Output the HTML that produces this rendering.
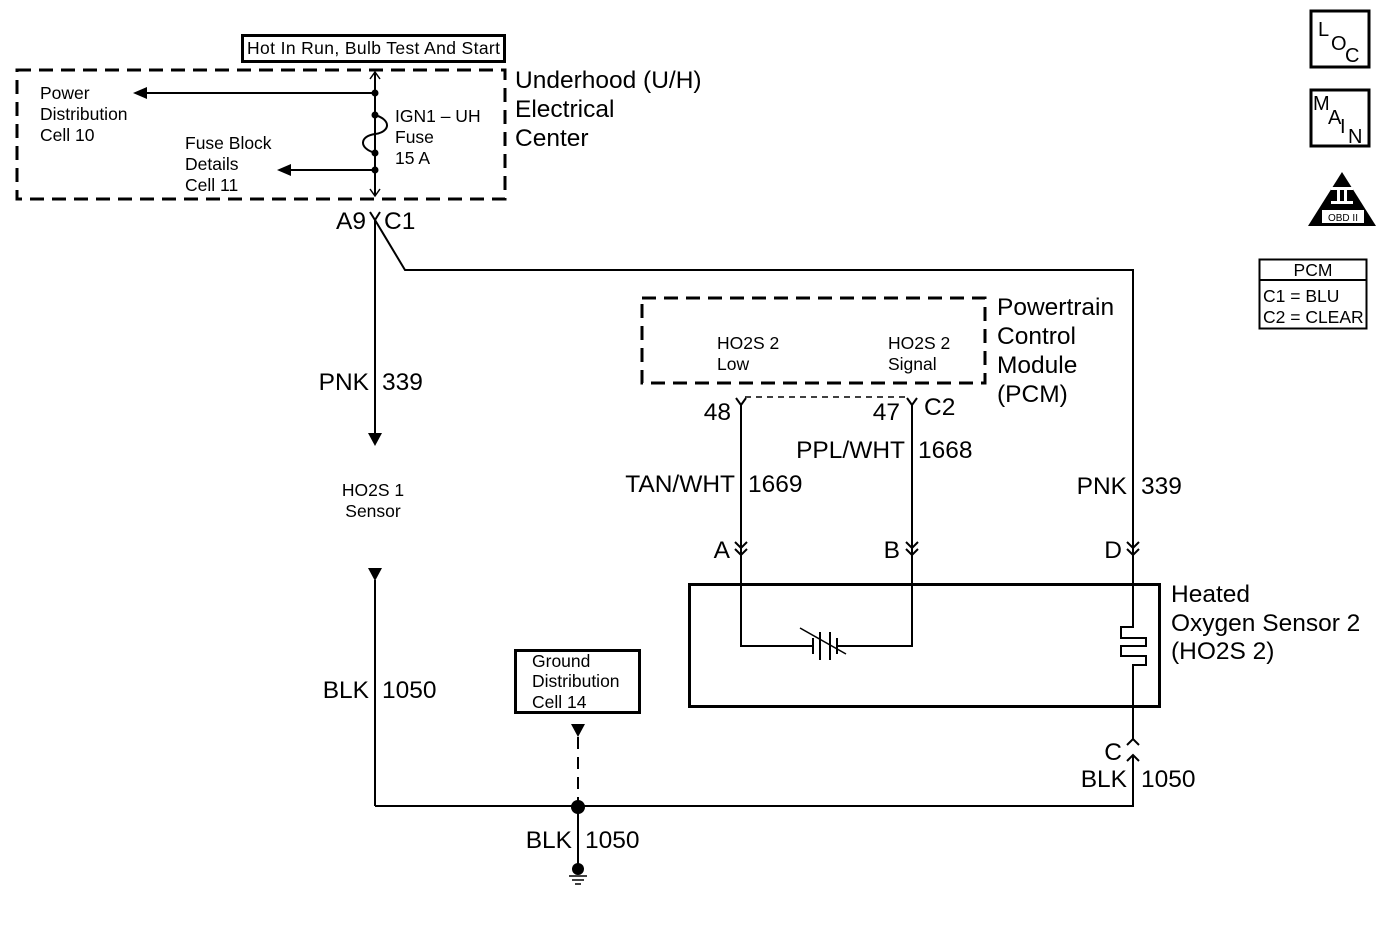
<!DOCTYPE html>
<html><head><meta charset="utf-8"><style>
html,body{margin:0;padding:0;background:#fff;}
svg{display:block;font-family:"Liberation Sans",sans-serif;}
</style></head><body>
<svg width="1380" height="929" viewBox="0 0 1380 929" xmlns="http://www.w3.org/2000/svg">
<g fill="none" stroke="#000">
<rect x="17" y="70" width="488" height="129" stroke-width="3" stroke-dasharray="14,8"/>
<rect x="242.5" y="35.5" width="262" height="26" stroke-width="3"/>
<line x1="375" y1="72" x2="375" y2="196" stroke-width="2"/>
<polyline points="370,79 375,72 380,79" stroke-width="1.5"/>
<polyline points="370,189 375,196 380,189" stroke-width="1.5"/>
<line x1="375" y1="93" x2="145" y2="93" stroke-width="2"/>
<line x1="375" y1="170" x2="289" y2="170" stroke-width="2"/>
<path d="M375,115 C392,120 390,132 375,134 C360,136 358,148 375,153" stroke-width="2" fill="none"/>
<polyline points="370,212 375,220 380,212" stroke-width="2"/>
<line x1="375" y1="220" x2="375" y2="435" stroke-width="2"/>
<polyline points="375,220 405,270 1133,270 1133,556" stroke-width="2"/>
<line x1="375" y1="580" x2="375" y2="806" stroke-width="2"/>
<line x1="375" y1="806" x2="1134" y2="806" stroke-width="2"/>
<line x1="578" y1="806" x2="578" y2="872" stroke-width="2"/>
<line x1="578" y1="737" x2="578" y2="806" stroke-width="2" stroke-dasharray="12,8"/>
<rect x="515.5" y="650.5" width="124" height="62" stroke-width="3"/>
<line x1="569" y1="876" x2="587" y2="876" stroke-width="1.5"/>
<line x1="572" y1="880" x2="584" y2="880" stroke-width="1.5"/>
<line x1="575" y1="884" x2="581" y2="884" stroke-width="1.5"/>
<rect x="642" y="298" width="343" height="85" stroke-width="3" stroke-dasharray="14,8"/>
<line x1="745" y1="397" x2="907" y2="397" stroke-width="1.5" stroke-dasharray="6,5"/>
<polyline points="736,398 741,405 746,398" stroke-width="2"/>
<polyline points="907,398 912,405 917,398" stroke-width="2"/>
<line x1="741" y1="405" x2="741" y2="556" stroke-width="2"/>
<line x1="912" y1="405" x2="912" y2="556" stroke-width="2"/>
<polyline points="735,542 741,548 747,542" stroke-width="2"/>
<polyline points="735,549 741,555 747,549" stroke-width="2"/>
<polyline points="906,542 912,548 918,542" stroke-width="2"/>
<polyline points="906,549 912,555 918,549" stroke-width="2"/>
<polyline points="1127,542 1133,548 1139,542" stroke-width="2"/>
<polyline points="1127,549 1133,555 1139,549" stroke-width="2"/>
<rect x="689.5" y="584.5" width="470" height="122" stroke-width="3"/>
<polyline points="741,555 741,646 813,646" stroke-width="2"/>
<polyline points="912,555 912,646 837,646" stroke-width="2"/>
<line x1="813" y1="638" x2="813" y2="654" stroke-width="2"/>
<line x1="820" y1="632" x2="820" y2="660" stroke-width="2"/>
<line x1="830" y1="632" x2="830" y2="660" stroke-width="2"/>
<line x1="837" y1="638" x2="837" y2="654" stroke-width="2"/>
<line x1="846" y1="654" x2="800" y2="628" stroke-width="1.5"/>
<polyline points="1133,555 1133,627 1121,627 1121,638 1146,638 1146,646 1121,646 1121,656 1146,656 1146,665 1133,665 1133,740" stroke-width="2"/>
<polyline points="1127,745 1133,739 1139,745" stroke-width="2"/>
<polyline points="1127,761 1133,755 1139,761" stroke-width="2"/>
<line x1="1133" y1="755" x2="1133" y2="806" stroke-width="2"/>
<rect x="1311" y="11" width="58" height="56" stroke-width="3"/>
<rect x="1311" y="90" width="58" height="56" stroke-width="3"/>
<rect x="1259.5" y="259.5" width="107" height="69" stroke-width="2"/>
<line x1="1259" y1="280" x2="1367" y2="280" stroke-width="2"/>
</g>
<g fill="#000">
<polygon points="133,93 147,87 147,99"/>
<polygon points="277,170 291,164 291,176"/>
<circle cx="375" cy="93" r="3.5"/><circle cx="375" cy="115" r="3.5"/><circle cx="375" cy="153" r="3.5"/><circle cx="375" cy="170" r="3.5"/>
<polygon points="375,446 368,433 382,433"/>
<polygon points="375,581 368,568 382,568"/>
<polygon points="578,737 571,724 585,724"/>
<circle cx="578" cy="807" r="7"/>
<circle cx="578" cy="869" r="6"/>
<polygon points="1342,172 1376,226 1308,226"/>
<rect x="1322" y="210" width="42" height="13" fill="#fff"/>
<rect x="1331" y="187" width="22" height="3" fill="#fff"/>
<rect x="1331" y="201" width="22" height="3" fill="#fff"/>
<rect x="1337" y="190" width="3" height="11" fill="#fff"/>
<rect x="1344" y="190" width="3" height="11" fill="#fff"/>
</g>
<g font-size="17.5">
<text x="247" y="54" textLength="253">Hot In Run, Bulb Test And Start</text>
<text x="40" y="99">Power</text><text x="40" y="120">Distribution</text><text x="40" y="141">Cell 10</text>
<text x="185" y="149">Fuse Block</text><text x="185" y="170">Details</text><text x="185" y="191">Cell 11</text>
<text x="395" y="122">IGN1 – UH</text><text x="395" y="143">Fuse</text><text x="395" y="164">15 A</text>
<text x="373" y="496" text-anchor="middle">HO2S 1</text><text x="373" y="517" text-anchor="middle">Sensor</text>
<text x="717" y="349">HO2S 2</text><text x="717" y="370">Low</text>
<text x="888" y="349">HO2S 2</text><text x="888" y="370">Signal</text>
<text x="532" y="667">Ground</text><text x="532" y="687">Distribution</text><text x="532" y="708">Cell 14</text>
<text x="1313" y="276" text-anchor="middle">PCM</text>
<text x="1263" y="302">C1 = BLU</text><text x="1263" y="323">C2 = CLEAR</text>
</g>
<g font-size="20">
<text x="1318" y="36">L</text><text x="1331" y="50">O</text><text x="1345" y="62">C</text>
<text x="1313" y="110">M</text><text x="1328" y="124">A</text><text x="1340" y="133">I</text><text x="1348" y="143">N</text>
</g>
<text x="1343" y="221" font-size="10" text-anchor="middle">OBD II</text>
<g font-size="24.5">
<text x="515" y="88">Underhood (U/H)</text><text x="515" y="117">Electrical</text><text x="515" y="146">Center</text>
<text x="366" y="229" text-anchor="end">A9</text><text x="384" y="229">C1</text>
<text x="369" y="390" text-anchor="end">PNK</text><text x="382" y="390">339</text>
<text x="369" y="698" text-anchor="end">BLK</text><text x="382" y="698">1050</text>
<text x="572" y="848" text-anchor="end">BLK</text><text x="585" y="848">1050</text>
<text x="997" y="315">Powertrain</text><text x="997" y="344">Control</text><text x="997" y="373">Module</text><text x="997" y="402">(PCM)</text>
<text x="731" y="420" text-anchor="end">48</text>
<text x="900" y="420" text-anchor="end">47</text><text x="924" y="415">C2</text>
<text x="905" y="458" text-anchor="end">PPL/WHT</text><text x="918" y="458">1668</text>
<text x="735" y="492" text-anchor="end">TAN/WHT</text><text x="748" y="492">1669</text>
<text x="1127" y="494" text-anchor="end">PNK</text><text x="1141" y="494">339</text>
<text x="730" y="558" text-anchor="end">A</text>
<text x="900" y="558" text-anchor="end">B</text>
<text x="1122" y="558" text-anchor="end">D</text>
<text x="1122" y="760" text-anchor="end">C</text>
<text x="1127" y="787" text-anchor="end">BLK</text><text x="1141" y="787">1050</text>
<text x="1171" y="602">Heated</text><text x="1171" y="631">Oxygen Sensor 2</text><text x="1171" y="659">(HO2S 2)</text>
</g>
</svg>
</body></html>
